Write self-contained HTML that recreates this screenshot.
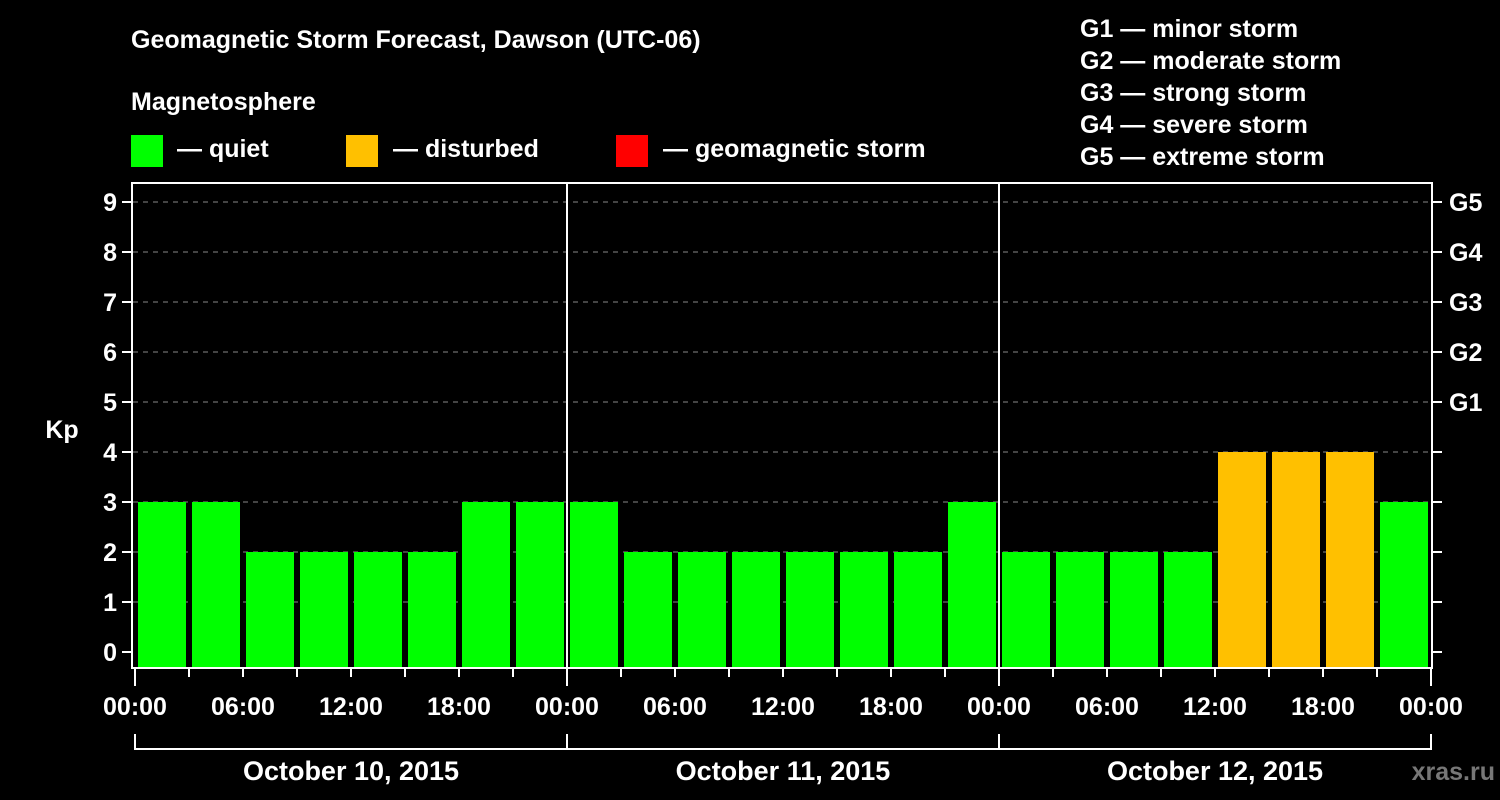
<!DOCTYPE html>
<html><head><meta charset="utf-8"><style>
html,body{margin:0;padding:0;background:#000;}
svg{display:block;font-family:"Liberation Sans",Arial,sans-serif;font-weight:bold;}
</style></head><body>
<svg id="c" width="1500" height="800" viewBox="0 0 1500 800">
<text x="131" y="48" fill="#fff" font-size="25">Geomagnetic Storm Forecast, Dawson (UTC-06)</text>
<text x="131" y="110" fill="#fff" font-size="25">Magnetosphere</text>
<g><rect x="131" y="135" width="32" height="32" fill="#00ff00"/><text x="177" y="157" fill="#fff" font-size="25">— quiet</text></g>
<g><rect x="346" y="135" width="32" height="32" fill="#ffc000"/><text x="393" y="157" fill="#fff" font-size="25">— disturbed</text></g>
<g><rect x="616" y="135" width="32" height="32" fill="#ff0000"/><text x="663" y="157" fill="#fff" font-size="25">— geomagnetic storm</text></g>
<g fill="#fff" font-size="25">
<text x="1080" y="37">G1 — minor storm</text>
<text x="1080" y="69">G2 — moderate storm</text>
<text x="1080" y="101">G3 — strong storm</text>
<text x="1080" y="133">G4 — severe storm</text>
<text x="1080" y="165">G5 — extreme storm</text>
</g>
<text x="62" y="438" fill="#fff" font-size="25" text-anchor="middle">Kp</text>
<text x="1495" y="780" fill="#777" font-size="25" text-anchor="end">xras.ru</text>
<g id="grid"></g><g id="bars"></g><g id="axes"></g>
</svg>
<script>
const days = ["October 10, 2015","October 11, 2015","October 12, 2015"];
const kpValues = [3,3,2,2,2,2,3,3, 3,2,2,2,2,2,2,3, 2,2,2,2,4,4,4,3];
const yTicks = [0,1,2,3,4,5,6,7,8,9];
const gLabels = ["G1","G2","G3","G4","G5"];
const hourLabels = ["00:00","06:00","12:00","18:00"];
const NS="http://www.w3.org/2000/svg";
const X0=135, DAYW=432, SLOT=54;
const y=v=>652-50*v;
const x=slot=>X0+slot*SLOT;
function mk(t,a,p){const e=document.createElementNS(NS,t);for(const k in a)e.setAttribute(k,a[k]);p.appendChild(e);return e;}
const grid=document.getElementById('grid'),bars=document.getElementById('bars'),axes=document.getElementById('axes');
const colorFor=v=>v>=5?"#ff0000":(v>=4?"#ffc000":"#00ff00");
yTicks.forEach(v=>{
  if(v>0){const g=mk('line',{x1:133,x2:1431,y1:y(v),y2:y(v),stroke:"#888","stroke-width":1,"stroke-dasharray":"5,5"},grid);
  
  }
  const t=mk('line',{x1:122,x2:132,y1:y(v),y2:y(v),stroke:"#fff","stroke-width":2},axes);
  
  
  const t2=mk('line',{x1:1432,x2:1442,y1:y(v),y2:y(v),stroke:"#fff","stroke-width":2},axes);
  
  
  const l=mk('text',{x:117,y:y(v)+9,fill:"#fff","font-size":25,"text-anchor":"end"},axes);l.textContent=v;
  
  
});
gLabels.forEach((g,i)=>{const l=mk('text',{x:1449,y:y(5+i)+9,fill:"#fff","font-size":25},axes);l.textContent=g;
  
  });
kpValues.forEach((v,i)=>{
  const r=mk('rect',{x:x(i)+3,y:y(v),width:48,height:667-y(v),fill:colorFor(v)},bars);
  
  
});
const fr=mk('rect',{x:132,y:183,width:1300,height:485,fill:"none",stroke:"#fff","stroke-width":2},axes);


for(let d=1;d<days.length;d++){const s=mk('line',{x1:X0+d*DAYW,x2:X0+d*DAYW,y1:183,y2:668,stroke:"#fff","stroke-width":2},axes);
  
  }
for(let i=0;i<=kpValues.length;i++){
  const long=i%8===0;
  const t=mk('line',{x1:x(i),x2:x(i),y1:668,y2:long?686:677,stroke:"#fff","stroke-width":2},axes);
  
  
  if(i%2===0){const l=mk('text',{x:x(i),y:715,fill:"#fff","font-size":25,"text-anchor":"middle"},axes);
  l.textContent=hourLabels[(i/2)%4];
  
  }
}
days.forEach((d,i)=>{
  const a=X0+i*DAYW,b=a+DAYW;
  const p=mk('path',{d:`M${a},734V749H${b}V734`,fill:"none",stroke:"#fff","stroke-width":2},axes);
  
  
  const l=mk('text',{x:(a+b)/2,y:780,fill:"#fff","font-size":27,"text-anchor":"middle"},axes);l.textContent=d;
  
  
});
</script>
</body></html>
